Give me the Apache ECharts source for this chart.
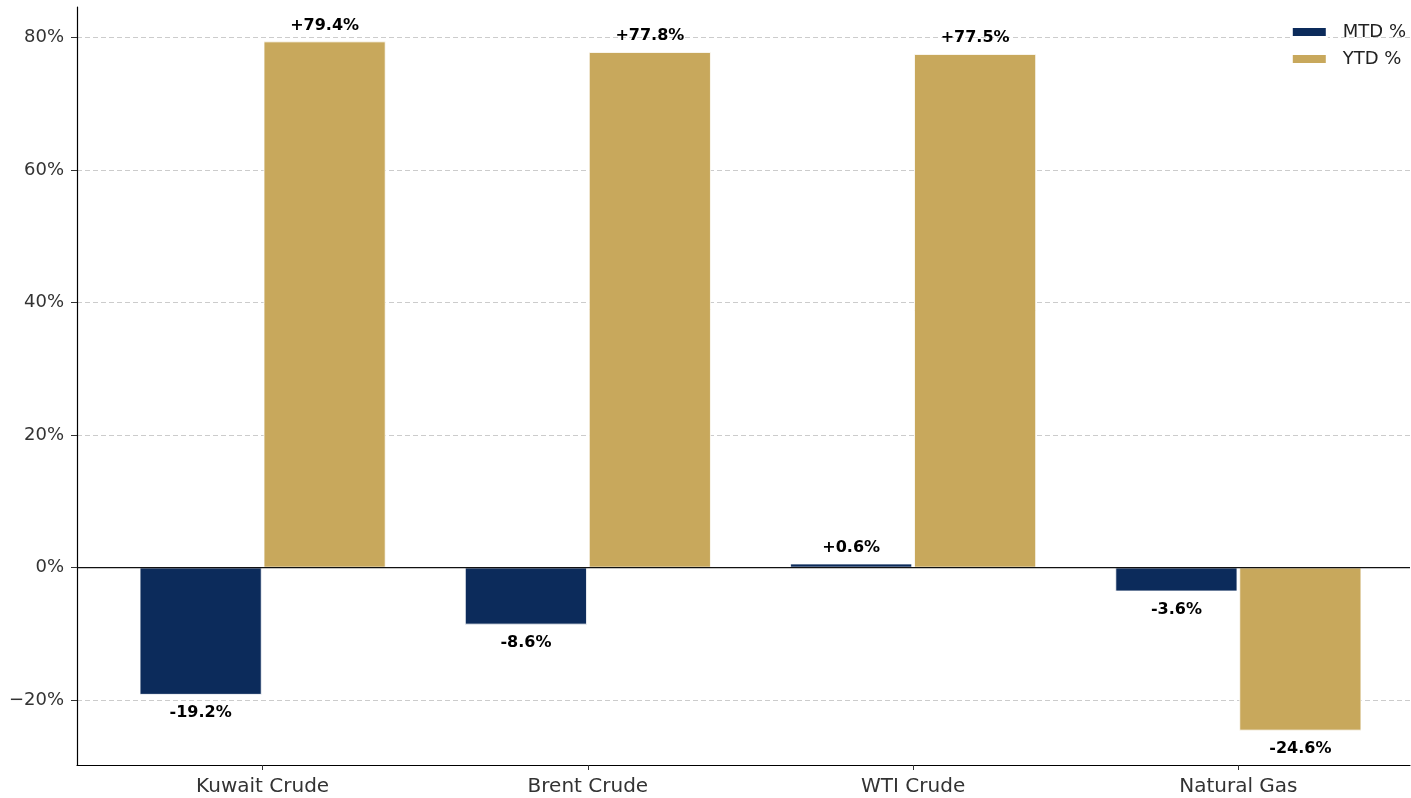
<!DOCTYPE html>
<html>
<head>
<meta charset="utf-8">
<script src="https://cdn.jsdelivr.net/npm/echarts@6/dist/echarts.min.js"></script>
<style>
  html, body { margin: 0; padding: 0; background: #fff; }
  #main { width: 1411px; height: 798px; }
</style>
</head>
<body>
<div id="main"></div>
<script>
// chart data
var categories = ["Kuwait Crude", "Brent Crude", "WTI Crude", "Natural Gas"];
var mtdValues = [-19.2, -8.6, 0.6, -3.6];
var ytdValues = [79.4, 77.8, 77.5, -24.6];
var yTicks = [-20, 0, 20, 40, 60, 80];
var yMin = -29.8;
var yMax = 84.6;

var NAVY = "#0c2b5b";
var GOLD = "#c8a85c";
var FONT = "DejaVu Sans";

function pctLabel(p) {
  var v = p.value;
  return (v > 0 ? "+" : "") + v.toFixed(1) + "%";
}

function barData(values) {
  return values.map(function (v) {
    return {
      value: v,
      label: { position: v >= 0 ? "top" : "bottom", distance: v >= 0 ? 8 : 10 }
    };
  });
}

var myChart = echarts.init(document.getElementById("main"));

var option = {
  animation: false,
  backgroundColor: "#fff",
  textStyle: { fontFamily: FONT },
  legend: {
    orient: "vertical",
    right: 5,
    top: 23,
    padding: 0,
    itemWidth: 35,
    itemHeight: 10,
    itemGap: 9,
    icon: "rect",
    selectedMode: false,
    textStyle: { color: "#222", fontSize: 18, fontFamily: FONT, padding: [0, 0, 0, 11] },
    data: ["MTD %", "YTD %"]
  },
  grid: [
    // frame grid: spines, y axis, gridlines
    { left: 77, right: 1, top: 7, bottom: 33, containLabel: false },
    // bar grid: category bands
    { left: 100, right: 10, top: 7, bottom: 33, containLabel: false }
  ],
  xAxis: [
    {
      gridIndex: 0,
      type: "value",
      min: 0,
      max: 1,
      axisLine: { show: true, onZero: false, lineStyle: { color: "#000", width: 1.2 } },
      axisTick: { show: false },
      axisLabel: { show: false },
      splitLine: { show: false }
    },
    {
      gridIndex: 1,
      type: "category",
      position: "bottom",
      data: categories,
      axisLine: { show: false, onZero: false },
      axisTick: { show: true, alignWithLabel: true, length: 5, lineStyle: { color: "#333" } },
      axisLabel: { color: "#333", fontSize: 20, fontFamily: FONT, margin: 12 },
      splitLine: { show: false }
    }
  ],
  yAxis: [
    {
      gridIndex: 0,
      type: "value",
      min: yMin,
      max: yMax,
      axisLine: { show: true, onZero: false, lineStyle: { color: "#000", width: 1.2 } },
      axisTick: { show: true, length: 6, customValues: yTicks, lineStyle: { color: "#333" } },
      axisLabel: {
        customValues: yTicks,
        color: "#333",
        fontSize: 18,
        fontFamily: FONT,
        margin: 13,
        padding: [5, 0, 0, 0],
        formatter: function (v) {
          return (v < 0 ? "\u2212" : "") + Math.abs(v) + "%";
        }
      },
      splitLine: {
        show: true,
        lineStyle: { color: "#cccccc", type: [5, 3], width: 1 }
      }
    },
    {
      gridIndex: 1,
      type: "value",
      min: yMin,
      max: yMax,
      show: false,
      splitLine: { show: false }
    }
  ],
  series: [
    {
      name: "MTD %",
      type: "bar",
      xAxisIndex: 1,
      yAxisIndex: 1,
      barWidth: 122,
      barGap: "1.6%",
      z: 2,
      itemStyle: { color: NAVY, borderColor: "#ffffff", borderWidth: 0.8 },
      label: {
        show: true,
        color: "#000",
        fontWeight: "bold",
        fontSize: 16,
        fontFamily: FONT,
        formatter: pctLabel
      },
      data: barData(mtdValues)
    },
    {
      name: "YTD %",
      type: "bar",
      xAxisIndex: 1,
      yAxisIndex: 1,
      barWidth: 122,
      barGap: "1.6%",
      z: 2,
      itemStyle: { color: GOLD, borderColor: "#ffffff", borderWidth: 0.8 },
      label: {
        show: true,
        color: "#000",
        fontWeight: "bold",
        fontSize: 16,
        fontFamily: FONT,
        formatter: pctLabel
      },
      data: barData(ytdValues)
    },
    {
      // zero line across the whole plot
      name: "zero",
      type: "line",
      xAxisIndex: 0,
      yAxisIndex: 0,
      z: 5,
      symbol: "none",
      silent: true,
      lineStyle: { color: "#111", width: 1.2 },
      data: [[0, 0], [1, 0]]
    }
  ]
};

myChart.setOption(option);
</script>
</body>
</html>
